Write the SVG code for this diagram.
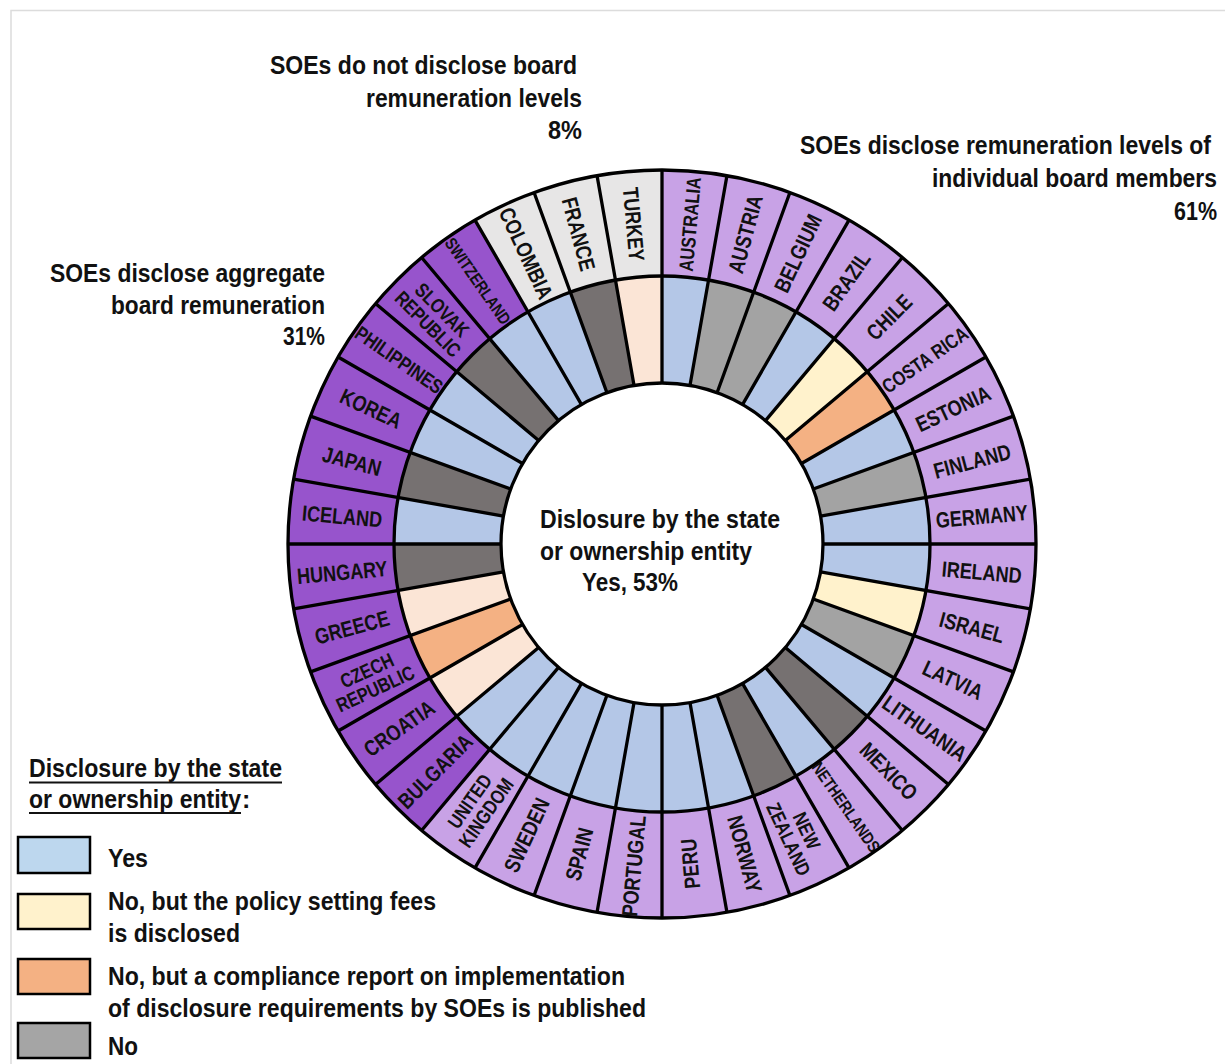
<svg xmlns="http://www.w3.org/2000/svg" width="1225" height="1064" viewBox="0 0 1225 1064">
<style>
text{font-family:'Liberation Sans Narrow','Arial Narrow','Liberation Sans',Arial,sans-serif;font-weight:bold;fill:#111}
.t{font-size:26px}
.lg{font-size:25px}
.lb{font-size:22px;text-anchor:middle}
.s20{font-size:20px}
.s17{font-size:17px}
.o1{fill:#c8a2e6}.o2{fill:#9754cc}.o3{fill:#e7e6e6}
.y{fill:#b4c7e7}.py{fill:#fff2cc}.cr{fill:#f4b183}.ng{fill:#a3a3a3}.dg{fill:#767171}.pe{fill:#fbe5d6}
.box{stroke:#000;stroke-width:2.5}
</style>
<rect x="0" y="0" width="1225" height="1064" fill="#fff"/>
<rect x="11" y="10.5" width="1240" height="1100" fill="none" stroke="#dcdcdc" stroke-width="1.5"/>

<g id="ring">
<g id="n-australia"><path class="o1" d="M662 544L662 170A374 374 0 0 1 726.94 175.68Z"/><path class="y" d="M662 544L662 276A268 268 0 0 1 708.54 280.07Z"/><text class="lb s20" transform="translate(689.98,224.22) rotate(-85) scale(0.82,1)" y="7">AUSTRALIA</text></g>
<g id="n-austria"><path class="o1" d="M662 544L726.94 175.68A374 374 0 0 1 789.92 192.55Z"/><path class="ng" d="M662 544L708.54 280.07A268 268 0 0 1 753.66 292.16Z"/><text class="lb" transform="translate(745.08,233.94) rotate(-75) scale(0.82,1)" y="8">AUSTRIA</text></g>
<g id="n-belgium"><path class="o1" d="M662 544L789.92 192.55A374 374 0 0 1 849 220.11Z"/><path class="ng" d="M662 544L753.66 292.16A268 268 0 0 1 796 311.91Z"/><text class="lb" transform="translate(797.66,253.08) rotate(-65) scale(0.82,1)" y="8">BELGIUM</text></g>
<g id="n-brazil"><path class="o1" d="M662 544L849 220.11A374 374 0 0 1 902.4 257.5Z"/><path class="y" d="M662 544L796 311.91A268 268 0 0 1 834.27 338.7Z"/><text class="lb" transform="translate(846.12,281.05) rotate(-55) scale(0.82,1)" y="8">BRAZIL</text></g>
<g id="n-chile"><path class="o1" d="M662 544L902.4 257.5A374 374 0 0 1 948.5 303.6Z"/><path class="py" d="M662 544L834.27 338.7A268 268 0 0 1 867.3 371.73Z"/><text class="lb" transform="translate(888.98,317.02) rotate(-45) scale(0.82,1)" y="8">CHILE</text></g>
<g id="n-costarica"><path class="o1" d="M662 544L948.5 303.6A374 374 0 0 1 985.89 357Z"/><path class="cr" d="M662 544L867.3 371.73A268 268 0 0 1 894.09 410Z"/><text class="lb s20" transform="translate(924.95,359.88) rotate(-35) scale(0.82,1)" y="7">COSTA RICA</text></g>
<g id="n-estonia"><path class="o1" d="M662 544L985.89 357A374 374 0 0 1 1013.45 416.08Z"/><path class="y" d="M662 544L894.09 410A268 268 0 0 1 913.84 452.34Z"/><text class="lb" transform="translate(952.92,408.34) rotate(-25) scale(0.82,1)" y="8">ESTONIA</text></g>
<g id="n-finland"><path class="o1" d="M662 544L1013.45 416.08A374 374 0 0 1 1030.32 479.06Z"/><path class="ng" d="M662 544L913.84 452.34A268 268 0 0 1 925.93 497.46Z"/><text class="lb" transform="translate(972.06,460.92) rotate(-15) scale(0.82,1)" y="8">FINLAND</text></g>
<g id="n-germany"><path class="o1" d="M662 544L1030.32 479.06A374 374 0 0 1 1036 544Z"/><path class="y" d="M662 544L925.93 497.46A268 268 0 0 1 930 544Z"/><text class="lb" transform="translate(981.78,516.02) rotate(-5) scale(0.82,1)" y="8">GERMANY</text></g>
<g id="n-ireland"><path class="o1" d="M662 544L1036 544A374 374 0 0 1 1030.32 608.94Z"/><path class="y" d="M662 544L930 544A268 268 0 0 1 925.93 590.54Z"/><text class="lb" transform="translate(981.78,571.98) rotate(5) scale(0.82,1)" y="8">IRELAND</text></g>
<g id="n-israel"><path class="o1" d="M662 544L1030.32 608.94A374 374 0 0 1 1013.45 671.92Z"/><path class="py" d="M662 544L925.93 590.54A268 268 0 0 1 913.84 635.66Z"/><text class="lb" transform="translate(972.06,627.08) rotate(15) scale(0.82,1)" y="8">ISRAEL</text></g>
<g id="n-latvia"><path class="o1" d="M662 544L1013.45 671.92A374 374 0 0 1 985.89 731Z"/><path class="ng" d="M662 544L913.84 635.66A268 268 0 0 1 894.09 678Z"/><text class="lb" transform="translate(952.92,679.66) rotate(25) scale(0.82,1)" y="8">LATVIA</text></g>
<g id="n-lithuania"><path class="o1" d="M662 544L985.89 731A374 374 0 0 1 948.5 784.4Z"/><path class="y" d="M662 544L894.09 678A268 268 0 0 1 867.3 716.27Z"/><text class="lb" transform="translate(924.95,728.12) rotate(35) scale(0.82,1)" y="8">LITHUANIA</text></g>
<g id="n-mexico"><path class="o1" d="M662 544L948.5 784.4A374 374 0 0 1 902.4 830.5Z"/><path class="dg" d="M662 544L867.3 716.27A268 268 0 0 1 834.27 749.3Z"/><text class="lb" transform="translate(888.98,770.98) rotate(45) scale(0.82,1)" y="8">MEXICO</text></g>
<g id="n-netherlands"><path class="o1" d="M662 544L902.4 830.5A374 374 0 0 1 849 867.89Z"/><path class="y" d="M662 544L834.27 749.3A268 268 0 0 1 796 776.09Z"/><text class="lb s17" transform="translate(846.12,806.95) rotate(55) scale(0.82,1)" y="6">NETHERLANDS</text></g>
<g id="n-newzealand"><path class="o1" d="M662 544L849 867.89A374 374 0 0 1 789.92 895.45Z"/><path class="dg" d="M662 544L796 776.09A268 268 0 0 1 753.66 795.84Z"/><text class="lb s20" transform="translate(797.66,834.92) rotate(65) scale(0.82,1)"><tspan x="0" y="-3">NEW</tspan><tspan x="0" y="17">ZEALAND</tspan></text></g>
<g id="n-norway"><path class="o1" d="M662 544L789.92 895.45A374 374 0 0 1 726.94 912.32Z"/><path class="y" d="M662 544L753.66 795.84A268 268 0 0 1 708.54 807.93Z"/><text class="lb" transform="translate(745.08,854.06) rotate(75) scale(0.82,1)" y="8">NORWAY</text></g>
<g id="n-peru"><path class="o1" d="M662 544L726.94 912.32A374 374 0 0 1 662 918Z"/><path class="y" d="M662 544L708.54 807.93A268 268 0 0 1 662 812Z"/><text class="lb" transform="translate(689.98,863.78) rotate(-95) scale(0.82,1)" y="8">PERU</text></g>
<g id="n-portugal"><path class="o1" d="M662 544L662 918A374 374 0 0 1 597.06 912.32Z"/><path class="y" d="M662 544L662 812A268 268 0 0 1 615.46 807.93Z"/><text class="lb" transform="translate(633.5,866) rotate(-85) scale(0.82,1)" y="8">PORTUGAL</text></g>
<g id="n-spain"><path class="o1" d="M662 544L597.06 912.32A374 374 0 0 1 534.08 895.45Z"/><path class="y" d="M662 544L615.46 807.93A268 268 0 0 1 570.34 795.84Z"/><text class="lb" transform="translate(578.92,854.06) rotate(-75) scale(0.82,1)" y="8">SPAIN</text></g>
<g id="n-sweden"><path class="o1" d="M662 544L534.08 895.45A374 374 0 0 1 475 867.89Z"/><path class="y" d="M662 544L570.34 795.84A268 268 0 0 1 528 776.09Z"/><text class="lb" transform="translate(526.34,834.92) rotate(-65) scale(0.82,1)" y="8">SWEDEN</text></g>
<g id="n-unitedkingdom"><path class="o1" d="M662 544L475 867.89A374 374 0 0 1 421.6 830.5Z"/><path class="y" d="M662 544L528 776.09A268 268 0 0 1 489.73 749.3Z"/><text class="lb s20" transform="translate(477.88,806.95) rotate(-55) scale(0.82,1)"><tspan x="0" y="-3">UNITED</tspan><tspan x="0" y="17">KINGDOM</tspan></text></g>
<g id="n-bulgaria"><path class="o2" d="M662 544L421.6 830.5A374 374 0 0 1 375.5 784.4Z"/><path class="y" d="M662 544L489.73 749.3A268 268 0 0 1 456.7 716.27Z"/><text class="lb" transform="translate(435.02,770.98) rotate(-45) scale(0.82,1)" y="8">BULGARIA</text></g>
<g id="n-croatia"><path class="o2" d="M662 544L375.5 784.4A374 374 0 0 1 338.11 731Z"/><path class="pe" d="M662 544L456.7 716.27A268 268 0 0 1 429.91 678Z"/><text class="lb" transform="translate(399.05,728.12) rotate(-35) scale(0.82,1)" y="8">CROATIA</text></g>
<g id="n-czechrepublic"><path class="o2" d="M662 544L338.11 731A374 374 0 0 1 310.55 671.92Z"/><path class="cr" d="M662 544L429.91 678A268 268 0 0 1 410.16 635.66Z"/><text class="lb s20" transform="translate(371.08,679.66) rotate(-25) scale(0.82,1)"><tspan x="0" y="-3">CZECH</tspan><tspan x="0" y="17">REPUBLIC</tspan></text></g>
<g id="n-greece"><path class="o2" d="M662 544L310.55 671.92A374 374 0 0 1 293.68 608.94Z"/><path class="pe" d="M662 544L410.16 635.66A268 268 0 0 1 398.07 590.54Z"/><text class="lb" transform="translate(351.94,627.08) rotate(-15) scale(0.82,1)" y="8">GREECE</text></g>
<g id="n-hungary"><path class="o2" d="M662 544L293.68 608.94A374 374 0 0 1 288 544Z"/><path class="dg" d="M662 544L398.07 590.54A268 268 0 0 1 394 544Z"/><text class="lb" transform="translate(342.22,571.98) rotate(-5) scale(0.82,1)" y="8">HUNGARY</text></g>
<g id="n-iceland"><path class="o2" d="M662 544L288 544A374 374 0 0 1 293.68 479.06Z"/><path class="y" d="M662 544L394 544A268 268 0 0 1 398.07 497.46Z"/><text class="lb" transform="translate(342.22,516.02) rotate(5) scale(0.82,1)" y="8">ICELAND</text></g>
<g id="n-japan"><path class="o2" d="M662 544L293.68 479.06A374 374 0 0 1 310.55 416.08Z"/><path class="dg" d="M662 544L398.07 497.46A268 268 0 0 1 410.16 452.34Z"/><text class="lb" transform="translate(351.94,460.92) rotate(15) scale(0.82,1)" y="8">JAPAN</text></g>
<g id="n-korea"><path class="o2" d="M662 544L310.55 416.08A374 374 0 0 1 338.11 357Z"/><path class="y" d="M662 544L410.16 452.34A268 268 0 0 1 429.91 410Z"/><text class="lb" transform="translate(371.08,408.34) rotate(25) scale(0.82,1)" y="8">KOREA</text></g>
<g id="n-philippines"><path class="o2" d="M662 544L338.11 357A374 374 0 0 1 375.5 303.6Z"/><path class="y" d="M662 544L429.91 410A268 268 0 0 1 456.7 371.73Z"/><text class="lb s20" transform="translate(399.05,359.88) rotate(35) scale(0.82,1)" y="7">PHILIPPINES</text></g>
<g id="n-slovakrepublic"><path class="o2" d="M662 544L375.5 303.6A374 374 0 0 1 421.6 257.5Z"/><path class="dg" d="M662 544L456.7 371.73A268 268 0 0 1 489.73 338.7Z"/><text class="lb s20" transform="translate(435.02,317.02) rotate(45) scale(0.82,1)"><tspan x="0" y="-3">SLOVAK</tspan><tspan x="0" y="17">REPUBLIC</tspan></text></g>
<g id="n-switzerland"><path class="o2" d="M662 544L421.6 257.5A374 374 0 0 1 475 220.11Z"/><path class="y" d="M662 544L489.73 338.7A268 268 0 0 1 528 311.91Z"/><text class="lb s17" transform="translate(477.88,281.05) rotate(55) scale(0.82,1)" y="6">SWITZERLAND</text></g>
<g id="n-colombia"><path class="o3" d="M662 544L475 220.11A374 374 0 0 1 534.08 192.55Z"/><path class="y" d="M662 544L528 311.91A268 268 0 0 1 570.34 292.16Z"/><text class="lb" transform="translate(526.34,253.08) rotate(65) scale(0.82,1)" y="8">COLOMBIA</text></g>
<g id="n-france"><path class="o3" d="M662 544L534.08 192.55A374 374 0 0 1 597.06 175.68Z"/><path class="dg" d="M662 544L570.34 292.16A268 268 0 0 1 615.46 280.07Z"/><text class="lb" transform="translate(578.92,233.94) rotate(75) scale(0.82,1)" y="8">FRANCE</text></g>
<g id="n-turkey"><path class="o3" d="M662 544L597.06 175.68A374 374 0 0 1 662 170Z"/><path class="pe" d="M662 544L615.46 280.07A268 268 0 0 1 662 276Z"/><text class="lb" transform="translate(634.02,224.22) rotate(85) scale(0.82,1)" y="8">TURKEY</text></g>
</g>

<g id="ring-lines" fill="none" stroke="#000" stroke-width="3.3">
<circle cx="662" cy="544" r="374"/>
<circle cx="662" cy="544" r="268"/>
<circle cx="662" cy="544" r="161" fill="#fff"/>
<path d="M662 383L662 170M689.96 385.45L726.94 175.68M717.07 392.71L789.92 192.55M742.5 404.57L849 220.11M765.49 420.67L902.4 257.5M785.33 440.51L948.5 303.6M801.43 463.5L985.89 357M813.29 488.93L1013.45 416.08M820.55 516.04L1030.32 479.06M823 544L1036 544M820.55 571.96L1030.32 608.94M813.29 599.07L1013.45 671.92M801.43 624.5L985.89 731M785.33 647.49L948.5 784.4M765.49 667.33L902.4 830.5M742.5 683.43L849 867.89M717.07 695.29L789.92 895.45M689.96 702.55L726.94 912.32M662 705L662 918M634.04 702.55L597.06 912.32M606.93 695.29L534.08 895.45M581.5 683.43L475 867.89M558.51 667.33L421.6 830.5M538.67 647.49L375.5 784.4M522.57 624.5L338.11 731M510.71 599.07L310.55 671.92M503.45 571.96L293.68 608.94M501 544L288 544M503.45 516.04L293.68 479.06M510.71 488.93L310.55 416.08M522.57 463.5L338.11 357M538.67 440.51L375.5 303.6M558.51 420.67L421.6 257.5M581.5 404.57L475 220.11M606.93 392.71L534.08 192.55M634.04 385.45L597.06 175.68"/>
</g>

<g id="center-label">
<text class="t" x="540" y="528" textLength="240" lengthAdjust="spacingAndGlyphs">Dislosure by the state</text>
<text class="t" x="540" y="560" textLength="212" lengthAdjust="spacingAndGlyphs">or ownership entity</text>
<text class="t" x="582" y="591" textLength="96" lengthAdjust="spacingAndGlyphs">Yes, 53%</text>
</g>

<g id="label-nodisclose">
<text class="t" x="270" y="74" textLength="307" lengthAdjust="spacingAndGlyphs">SOEs do not disclose board</text>
<text class="t" x="366" y="107" textLength="216" lengthAdjust="spacingAndGlyphs">remuneration levels</text>
<text class="t" x="548" y="139" textLength="34" lengthAdjust="spacingAndGlyphs">8%</text>
</g>

<g id="label-individual">
<text class="t" transform="translate(800,154) scale(0.85,1)" textLength="483.5" lengthAdjust="spacingAndGlyphs">SOEs disclose remuneration levels of</text>
<text class="t" transform="translate(932,187) scale(0.85,1)" textLength="335.3" lengthAdjust="spacingAndGlyphs">individual board members</text>
<text class="t" x="1174" y="220" textLength="43" lengthAdjust="spacingAndGlyphs">61%</text>
</g>

<g id="label-aggregate">
<text class="t" x="50" y="282" textLength="275" lengthAdjust="spacingAndGlyphs">SOEs disclose aggregate</text>
<text class="t" x="111" y="314" textLength="214" lengthAdjust="spacingAndGlyphs">board remuneration</text>
<text class="t" x="283" y="345" textLength="42" lengthAdjust="spacingAndGlyphs">31%</text>
</g>

<g id="legend">
<text class="lg" x="29" y="777" textLength="253" lengthAdjust="spacingAndGlyphs">Disclosure by the state</text>
<text class="lg" transform="translate(29,808) scale(0.85,1)" textLength="249.4" lengthAdjust="spacingAndGlyphs">or ownership entity</text>
<text class="lg" x="242" y="808" font-weight="normal">:</text>
<line x1="29" y1="782.5" x2="282" y2="782.5" stroke="#111" stroke-width="1.8"/>
<line x1="29" y1="813" x2="241" y2="813" stroke="#111" stroke-width="1.8"/>
<g id="legend-yes"><rect class="box" x="18" y="837" width="72" height="36" fill="#bdd7ee"/><text class="lg" x="108" y="867" textLength="40" lengthAdjust="spacingAndGlyphs">Yes</text></g>
<g id="legend-policy"><rect class="box" x="18" y="894" width="72" height="35" fill="#fff2cc"/><text class="lg" x="108" y="910" textLength="328" lengthAdjust="spacingAndGlyphs">No, but the policy setting fees</text><text class="lg" x="108" y="942" textLength="132" lengthAdjust="spacingAndGlyphs">is disclosed</text></g>
<g id="legend-compliance"><rect class="box" x="18" y="959" width="72" height="35" fill="#f4b183"/><text class="lg" x="108" y="985" textLength="517" lengthAdjust="spacingAndGlyphs">No, but a compliance report on implementation</text><text class="lg" x="108" y="1017" textLength="538" lengthAdjust="spacingAndGlyphs">of disclosure requirements by SOEs is published</text></g>
<g id="legend-no"><rect class="box" x="18" y="1023" width="72" height="35" fill="#a5a5a5"/><text class="lg" x="108" y="1055" textLength="30" lengthAdjust="spacingAndGlyphs">No</text></g>
</g>
</svg>
